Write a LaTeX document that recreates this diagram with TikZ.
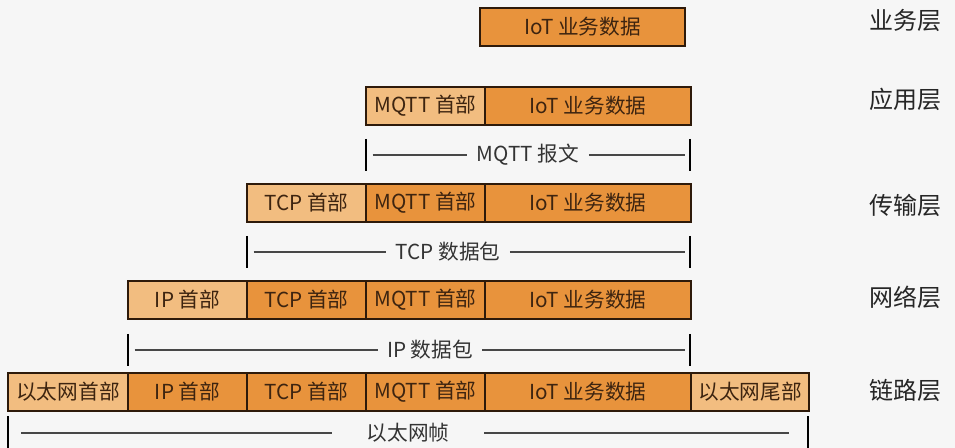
\documentclass[tikz,border=0pt]{standalone}
\usepackage{fontspec}
\setmainfont{Noto Sans CJK SC}
\usetikzlibrary{positioning}
\definecolor{hdrfill}{HTML}{F2BD80}
\definecolor{payfill}{HTML}{E8933C}
\definecolor{boxline}{HTML}{2E1A0A}
\definecolor{boxtext}{HTML}{3D2410}
\definecolor{pagebg}{HTML}{F6F6F6}

\begin{document}
\begin{tikzpicture}[
  x=0.75pt, y=-0.75pt,
  cell/.style={draw=boxline, line width=1.4pt, outer sep=0pt, inner sep=0pt,
               minimum height=28.5pt, minimum width=89.25pt,
               font=\fontsize{15.5}{18}\selectfont, text=boxtext},
  hdr/.style={cell, fill=hdrfill},
  pay/.style={cell, fill=payfill, minimum width=154.5pt},
  layer/.style={font=\fontsize{18}{21}\selectfont, text=black!85},
  span/.style={font=\fontsize{15.5}{18}\selectfont, text=black!80, inner xsep=7pt},
  rule/.style={line width=1.3pt, draw=black!72},
  tick/.style={line width=1.6pt, draw=black}
]
\fill[pagebg] (0,0) rectangle (955,448);
\useasboundingbox (0,0) rectangle (955,448);

% layer 1
\node[pay, anchor=west, minimum width=153.75pt] (iot1) at (480,27) {IoT 业务数据};

% layer 2
\node[hdr, anchor=west] (mqtt2) at (366,106) {MQTT 首部};
\node[pay, right=0pt of mqtt2] (iot2) {IoT 业务数据};

% layer 3
\node[hdr, anchor=west] (tcp3) at (247,203) {TCP 首部};
\node[pay, minimum width=89.25pt, right=0pt of tcp3] (mqtt3) {MQTT 首部};
\node[pay, right=0pt of mqtt3] (iot3) {IoT 业务数据};

% layer 4
\node[hdr, anchor=west] (ip4) at (128,300) {IP 首部};
\node[pay, minimum width=89.25pt, right=0pt of ip4] (tcp4) {TCP 首部};
\node[pay, minimum width=89.25pt, right=0pt of tcp4] (mqtt4) {MQTT 首部};
\node[pay, right=0pt of mqtt4] (iot4) {IoT 业务数据};

% layer 5
\node[hdr, anchor=west, minimum width=90pt] (eth5) at (8,392) {以太网首部};
\node[pay, minimum width=89.25pt, right=0pt of eth5] (ip5) {IP 首部};
\node[pay, minimum width=89.25pt, right=0pt of ip5] (tcp5) {TCP 首部};
\node[pay, minimum width=89.25pt, right=0pt of tcp5] (mqtt5) {MQTT 首部};
\node[pay, right=0pt of mqtt5] (iot5) {IoT 业务数据};
\node[hdr, minimum width=88.5pt, right=0pt of iot5] (tail5) {以太网尾部};

% spans
\coordinate (mqttL) at (366,155); \coordinate (mqttR) at (690,155);
\node[span] (mqttspan) at (528,155) {MQTT 报文};
\coordinate (tcpL) at (247,252); \coordinate (tcpR) at (690,252);
\node[span] (tcpspan) at (448,252) {TCP 数据包};
\coordinate (ipL) at (128,350); \coordinate (ipR) at (690,350);
\node[span] (ipspan) at (430,350) {IP 数据包};
\coordinate (ethL) at (8,433); \coordinate (ethR) at (808,433);
\node[span, inner xsep=26pt] (ethspan) at (408,433) {以太网帧};

\foreach \s in {mqtt,tcp,ip}{
  \draw[tick] ([yshift=12pt]\s L) -- ([yshift=-12pt]\s L);
  \draw[tick] ([yshift=12pt]\s R) -- ([yshift=-12pt]\s R);
  \draw[rule] ([xshift=5pt]\s L) -- (\s span.west);
  \draw[rule] (\s span.east) -- ([xshift=-4pt]\s R);
}
\draw[tick] ([yshift=12.5pt]ethL) -- ([yshift=-12.5pt]ethL);
\draw[tick] ([yshift=12.5pt]ethR) -- ([yshift=-12.5pt]ethR);
\draw[rule] ([xshift=10pt]ethL) -- (ethspan.west);
\draw[rule] (ethspan.east) -- ([xshift=-14pt]ethR);

% layer names
\node[layer] (biz)  at (905,20)  {业务层};
\node[layer] (app)  at (905,99)  {应用层};
\node[layer] (trans) at (905,205) {传输层};
\node[layer] (net)  at (905,297) {网络层};
\node[layer] (link) at (905,390) {链路层};
\end{tikzpicture}
\end{document}
